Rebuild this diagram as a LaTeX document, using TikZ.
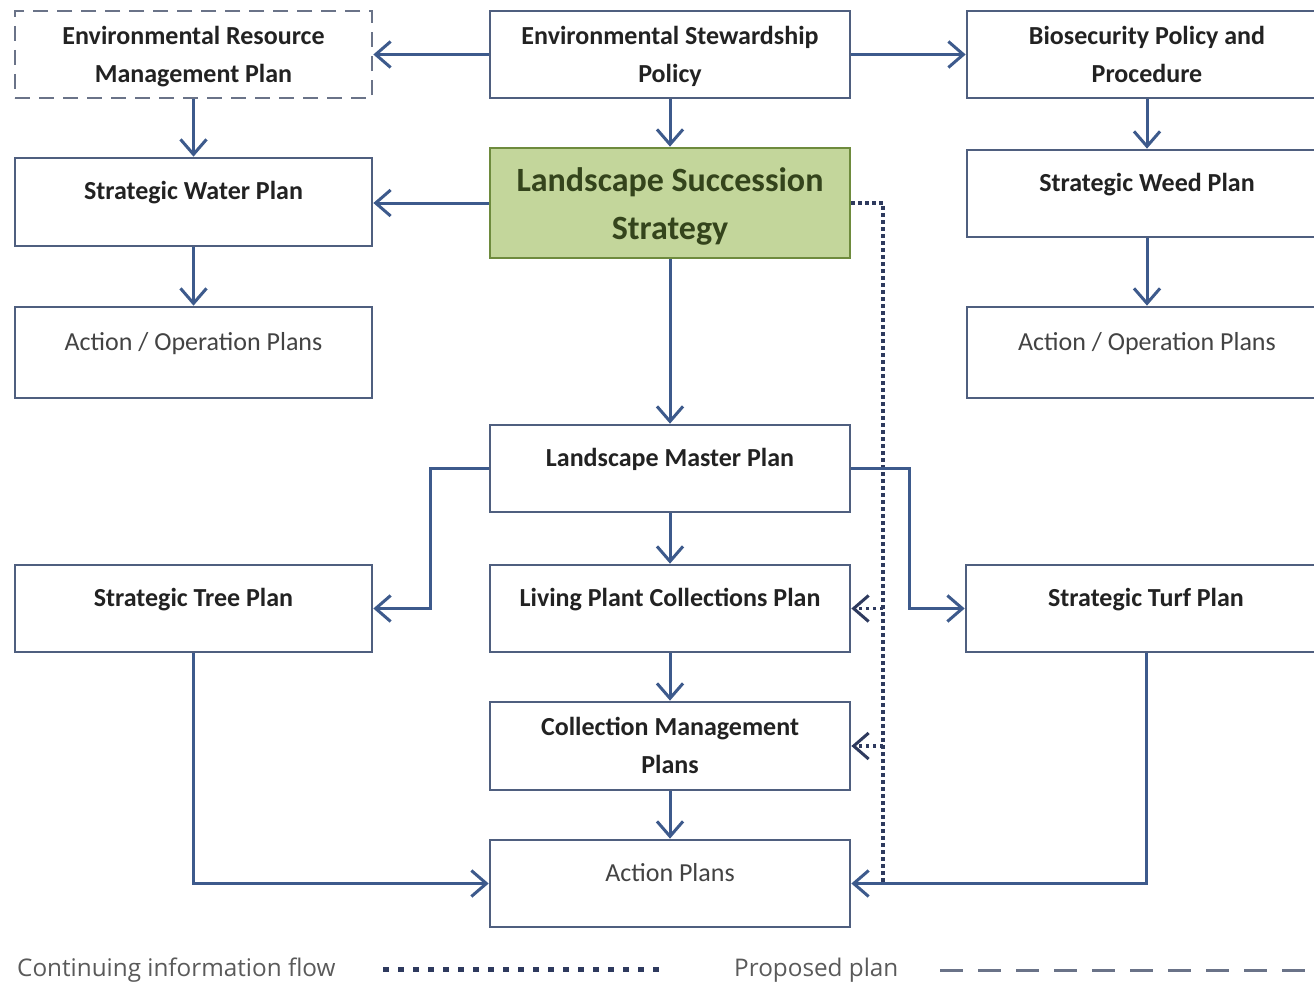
\documentclass[tikz,border=0pt]{standalone}
\usepackage{fontspec}
\setmainfont{Carlito}
\newfontfamily\legendfont{Open Sans}
\usetikzlibrary{arrows.meta}
\definecolor{boxline}{HTML}{4F5F7F}
\definecolor{arrowc}{HTML}{3D5A8C}
\definecolor{greenfill}{HTML}{C3D69B}
\definecolor{greenline}{HTML}{6E8B3D}
\definecolor{greentext}{HTML}{34441C}
\definecolor{dotc}{HTML}{2E3A5E}
\definecolor{dashc}{HTML}{6A7388}
\definecolor{legtext}{HTML}{5A5A5A}
\definecolor{boxtext}{HTML}{222222}
\begin{document}
\begin{tikzpicture}[x=1pt,y=-1pt,
  box/.style={draw=boxline, line width=2.7pt, fill=white, rectangle,
    minimum width=360pt, minimum height=87pt, align=center, inner sep=0pt,
    font=\fontsize{26}{38}\selectfont\bfseries, text=boxtext},
  narrow/.style={minimum width=357pt},
  oneline/.style={text height=14pt, text depth=19pt},
  twoline/.style={text height=60pt, text depth=5pt},
  plain/.style={font=\fontsize{26}{38}\selectfont, text=boxtext!85},
  proposed/.style={draw=dashc, dash pattern=on 15pt off 9pt},
  keybox/.style={draw=greenline, fill=greenfill, text=greentext,
    font=\fontsize{34}{48}\selectfont\bfseries, text height=80pt, text depth=8pt},
  arr/.style={draw=arrowc, line width=3pt, -{Straight Barb[length=15pt,width=26pt,line width=3pt]}},
  dotline/.style={draw=dotc, line width=3.3pt, dash pattern=on 3.3pt off 3.7pt},
  dotarr/.style={dotline, -{Straight Barb[length=15pt,width=26pt,line width=3pt]}},
  legdot/.style={draw=dotc, line width=5pt, dash pattern=on 6pt off 9pt},
  legdash/.style={draw=dashc, line width=3pt, dash pattern=on 23pt off 15pt},
  legtxt/.style={anchor=west, font=\legendfont\fontsize{24.3}{28}\selectfont, text=legtext, inner sep=0pt}
]
\path[use as bounding box, clip] (0,0) rectangle (1314,982);
\fill[white] (0,0) rectangle (1314,982);

% top row
\node[box, narrow, twoline, proposed] (ermp) at (193.5,54.5) {Environmental Resource\\Management Plan};
\node[box, twoline] (esp) at (670,54.5) {Environmental Stewardship\\Policy};
\node[box, twoline] (bpp) at (1147,54.5) {Biosecurity Policy and\\Procedure};

% second row
\node[box, narrow, oneline, minimum height=88pt] (swp) at (193.5,202) {Strategic Water Plan};
\node[box, keybox, minimum height=110pt] (lss) at (670,203) {Landscape Succession\\Strategy};
\node[box, oneline] (sweed) at (1147,193.5) {Strategic Weed Plan};

% third row
\node[box, narrow, oneline, plain, minimum height=91pt] (aopl) at (193.5,352.5) {Action / Operation Plans};
\node[box, oneline, plain, minimum height=91pt] (aopr) at (1147,352.5) {Action / Operation Plans};

% centre column
\node[box, oneline] (lmp) at (670,468.5) {Landscape Master Plan};
\node[box, narrow, oneline] (stp) at (193.5,608.5) {Strategic Tree Plan};
\node[box, oneline] (lpcp) at (670,608.5) {Living Plant Collections Plan};
\node[box, oneline] (turf) at (1146,608.5) {Strategic Turf Plan};
\node[box, twoline, minimum height=88pt] (cmp) at (670,746) {Collection Management\\Plans};
\node[box, oneline, plain] (ap) at (670,883.5) {Action Plans};

% dotted continuing information flow
\coordinate (dbot) at (883,884);
\draw[dotline] (lss.east) -| (dbot);
\draw[dotarr] (lpcp.east -| dbot) -- (lpcp.east);
\draw[dotarr] (cmp.east -| dbot) -- (cmp.east);

% solid connectors
\draw[arr] (esp.west) -- (ermp.east);
\draw[arr] (esp.east) -- (bpp.west);
\draw[arr] (esp.south) -- (lss.north);
\draw[arr] (ermp.south) -- (swp.north);
\draw[arr] (lss.west) -- (lss.west -| swp.east);
\draw[arr] (swp.south) -- (aopl.north);
\draw[arr] (bpp.south) -- (sweed.north);
\draw[arr] (sweed.south) -- (aopr.north);
\draw[arr] (lss.south) -- (lmp.north);
\draw[arr] (lmp.west) -- ++(-58,0) |- (stp.east);
\draw[arr] (lmp.east) -- ++(58,0) |- (turf.west);
\draw[arr] (lmp.south) -- (lpcp.north);
\draw[arr] (lpcp.south) -- (cmp.north);
\draw[arr] (cmp.south) -- (ap.north);
\draw[arr] (stp.south) |- (ap.west);
\draw[arr] (turf.south) |- (ap.east);

% legend
\node[legtxt] (leg1) at (17,970) {Continuing information flow};
\coordinate (ld1) at (383,969);
\coordinate (ld2) at (662,969);
\draw[legdot] (ld1) -- (ld2);
\node[legtxt] (leg2) at (734,970) {Proposed plan};
\coordinate (lp1) at (940,970);
\coordinate (lp2) at (1320,970);
\draw[legdash] (lp1) -- (lp2);
\end{tikzpicture}
\end{document}
